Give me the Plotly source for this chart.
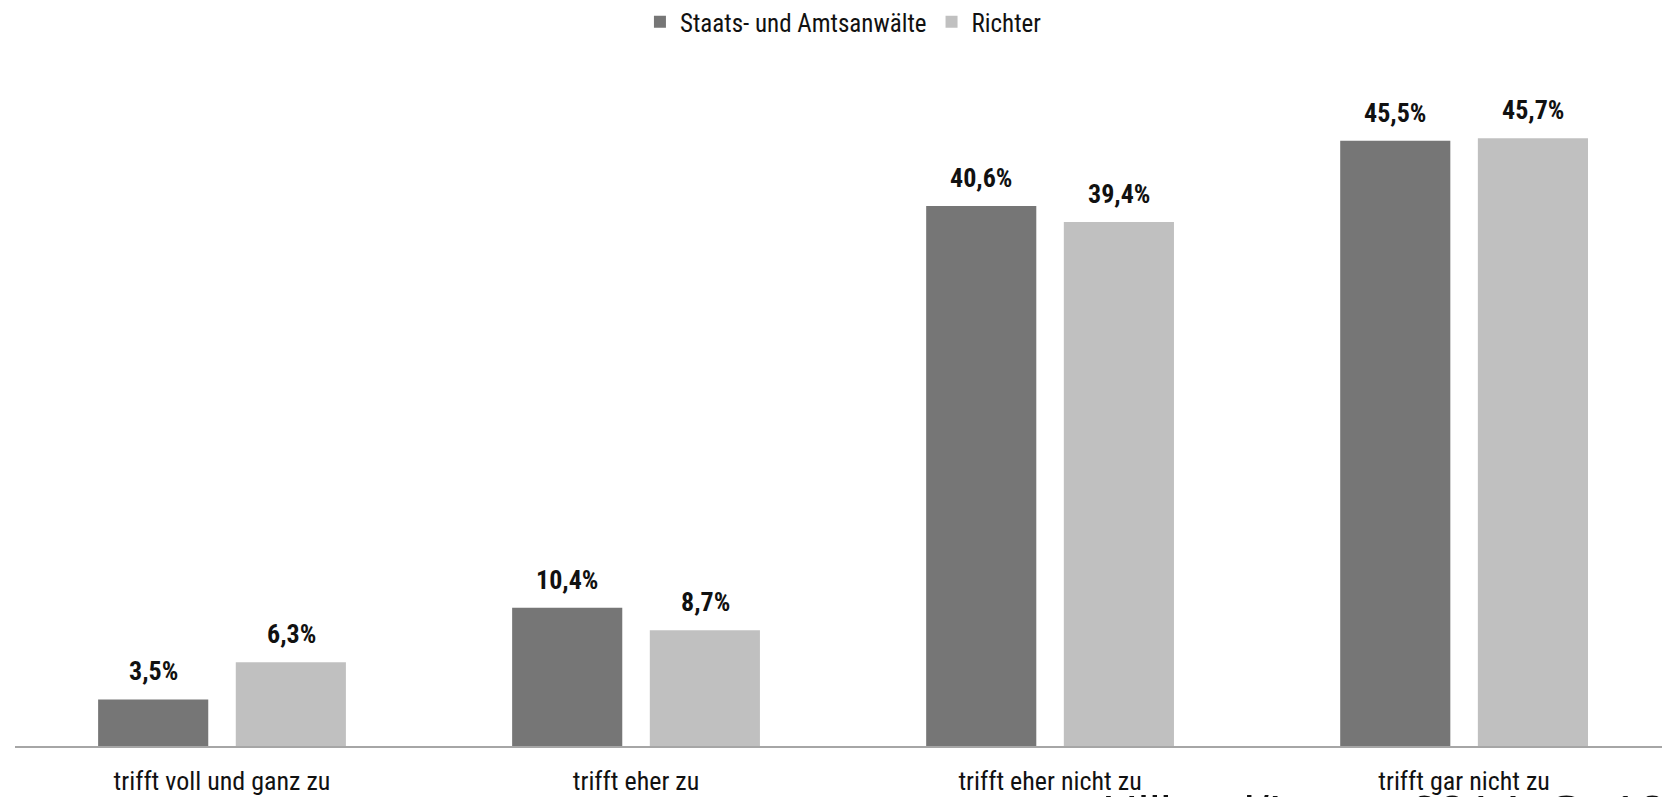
import plotly.graph_objects as go

categories = ["trifft voll und ganz zu", "trifft eher zu", "trifft eher nicht zu", "trifft gar nicht zu"]
staatsanwaelte = [3.5, 10.4, 40.6, 45.5]
richter = [6.3, 8.7, 39.4, 45.7]
series_names = ["Staats- und Amtsanwälte", "Richter"]
source_text = "Hilland/Lauer 2014, S. 135"

FONT = "Liberation Sans Narrow, Arial Narrow, Roboto Condensed, Liberation Sans, sans-serif"
DARK = "#767676"
LIGHT = "#c0c0c0"

fig = go.Figure()
fig.add_trace(go.Bar(x=categories, y=staatsanwaelte, name=series_names[0],
                     marker=dict(color=DARK, line=dict(width=0))))
fig.add_trace(go.Bar(x=categories, y=richter, name=series_names[1],
                     marker=dict(color=LIGHT, line=dict(width=0))))

def fmt(v):
    return f"{v:.1f}".replace(".", ",") + "%"

annotations = []
for vals, shift in ((staatsanwaelte, -69), (richter, 69)):
    for cat, v in zip(categories, vals):
        annotations.append(dict(
            x=cat, y=v, xref="x", yref="y", text=fmt(v), showarrow=False,
            xshift=shift, yshift=28, yanchor="middle",
            font=dict(family=FONT, size=26, color="#111111", weight="bold"),
        ))

# source line along the bottom edge, partly below the visible page
annotations.append(dict(
    x=(1100 - 15) / 1647, y=-(784 - 746) / 665, xref="paper", yref="paper",
    text=source_text, showarrow=False, xanchor="left", yanchor="top",
    font=dict(family="Liberation Sans, Arial, sans-serif", size=50, color="#111111"),
))

fig.update_layout(
    width=1662, height=797,
    margin=dict(l=15, r=0, t=81, b=51, autoexpand=False),
    paper_bgcolor="white", plot_bgcolor="white",
    barmode="group", bargap=0.335, bargroupgap=0.2,
    font=dict(family=FONT, size=26, color="#111111"),
    showlegend=True,
    legend=dict(orientation="h", x=0.503, xanchor="center", y=1 - 22 / 797,
                yref="container", yanchor="middle",
                font=dict(family=FONT, size=25, color="#111111"),
                itemwidth=30, traceorder="normal"),
    xaxis=dict(range=[-0.5, 3.478], showline=True, linecolor="#a6a6a6", linewidth=2,
               ticks="", showgrid=False, zeroline=False, ticklabelstandoff=11,
               automargin=False,
               tickfont=dict(family=FONT, size=26, color="#111111")),
    yaxis=dict(range=[0, 50], visible=False, showgrid=False, zeroline=False,
               automargin=False),
    annotations=annotations,
)

fig.write_html("out.html")
